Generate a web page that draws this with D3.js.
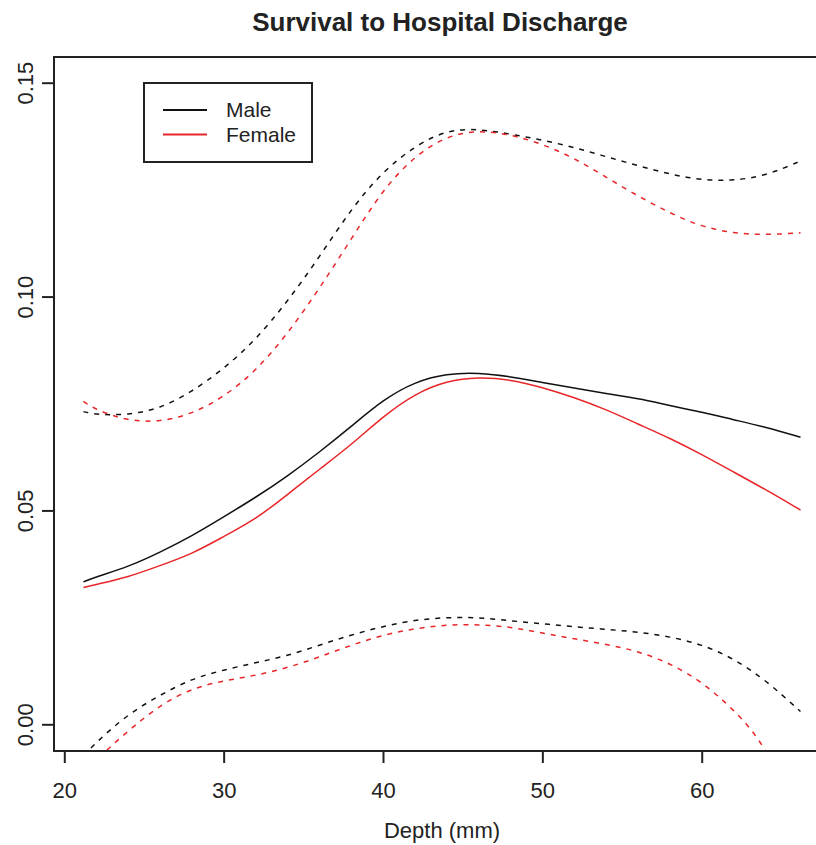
<!DOCTYPE html>
<meta charset="utf-8">
<title>Survival to Hospital Discharge</title>
<style>
body { margin: 0; background: #fff; }
text { font-family: "Liberation Sans", Arial, sans-serif; fill: #222; }
</style>
<body>
<script src="https://d3js.org/d3.v7.min.js"></script>
<script>

// depth grid (mm) and fitted curves
let depth = [21.2, 22, 24, 26, 28, 30, 32, 34, 36, 38, 40, 42, 44, 46, 48, 50, 52, 54, 56, 58, 60, 62, 64, 66.2];

let maleFit = [0.0333, 0.0345, 0.0368, 0.0402, 0.0440, 0.0485, 0.0530, 0.0580, 0.0636, 0.0696, 0.0759, 0.0801,
               0.0820, 0.0822, 0.0813, 0.0799, 0.0786, 0.0773, 0.0762, 0.0745, 0.0730, 0.0712, 0.0695, 0.0671];
let femaleFit = [0.0320, 0.0327, 0.0344, 0.0371, 0.0398, 0.0439, 0.0479, 0.0537, 0.0596, 0.0653, 0.0720, 0.0773,
                 0.0803, 0.0812, 0.0806, 0.0788, 0.0764, 0.0736, 0.0702, 0.0669, 0.0631, 0.0590, 0.0549, 0.0501];

let maleUpper = [0.0731, 0.0724, 0.0723, 0.0738, 0.0777, 0.0831, 0.0898, 0.0988, 0.1092, 0.1205, 0.1293, 0.1352,
                 0.1390, 0.1392, 0.1380, 0.1366, 0.1349, 0.1327, 0.1306, 0.1286, 0.1272, 0.1271, 0.1282, 0.1317];
let maleLower = [-0.0074, -0.0042, 0.0024, 0.0068, 0.0107, 0.0127, 0.0144, 0.0160, 0.0185, 0.0209, 0.0229, 0.0244,
                 0.0250, 0.0250, 0.0242, 0.0235, 0.0228, 0.0222, 0.0216, 0.0205, 0.0187, 0.0154, 0.0104, 0.0030];

let femaleUpper = [0.0755, 0.0735, 0.0709, 0.0707, 0.0725, 0.0765, 0.0825, 0.0912, 0.1018, 0.1134, 0.1251, 0.1329,
                   0.1376, 0.1389, 0.1379, 0.1357, 0.1324, 0.1279, 0.1235, 0.1195, 0.1163, 0.1148, 0.1144, 0.1149];
let femaleLower = [-0.0114, -0.0083, -0.0015, 0.0045, 0.0084, 0.0102, 0.0114, 0.0132, 0.0157, 0.0185, 0.0209, 0.0224,
                   0.0233, 0.0233, 0.0228, 0.0213, 0.0200, 0.0187, 0.0171, 0.0143, 0.0100, 0.0035, -0.0048, -0.0226];

let xTicks = [20, 30, 40, 50, 60];
let yTicks = [0.00, 0.05, 0.10, 0.15];
let legendLabels = ["Male", "Female"];

let width = 816;
let height = 845;
let box = { left: 54, top: 57, right: 826, bottom: 751 };
let black = "#111";
let red = "#e8262a";

let x = d3.scaleLinear().domain([20, 60]).range([64.3, 701.7]);
let y = d3.scaleLinear().domain([0, 0.15]).range([724.3, 82.7]);

let svg = d3.select('body').append('svg')
    .attr('width', width)
    .attr('height', height);

svg.append('clipPath').attr('id', 'plot-clip')
  .append('rect')
    .attr('x', box.left).attr('y', box.top)
    .attr('width', box.right - box.left).attr('height', box.bottom - box.top);

let line = d3.line()
    .x((d, i) => x(depth[i]))
    .y(d => y(d))
    .curve(d3.curveBasis);

let series = [
    { values: maleUpper, color: black, dash: '5,6' },
    { values: maleLower, color: black, dash: '5,6' },
    { values: femaleUpper, color: red, dash: '5,6' },
    { values: femaleLower, color: red, dash: '5,6' },
    { values: maleFit, color: black, dash: null },
    { values: femaleFit, color: red, dash: null },
];

svg.append('g')
    .attr('clip-path', 'url(#plot-clip)')
  .selectAll('path')
    .data(series)
    .enter().append('path')
      .attr('d', d => line(d.values))
      .attr('fill', 'none')
      .attr('stroke', d => d.color)
      .attr('stroke-width', 1.5)
      .attr('stroke-dasharray', d => d.dash);

// plot frame
svg.append('rect')
    .attr('x', box.left).attr('y', box.top)
    .attr('width', box.right - box.left).attr('height', box.bottom - box.top)
    .attr('fill', 'none')
    .attr('stroke', '#222')
    .attr('stroke-width', 2);

// x axis
let xAxis = svg.append('g').attr('transform', `translate(0,${box.bottom})`)
    .call(d3.axisBottom(x).tickValues(xTicks).tickSize(12).tickFormat(d3.format('d')));
xAxis.select('.domain').remove();
xAxis.selectAll('.tick line').attr('stroke', '#222').attr('stroke-width', 2);
xAxis.selectAll('.tick text')
    .attr('font-size', 22).attr('dy', null).attr('y', 47)
    .attr('font-family', '"Liberation Sans", Arial, sans-serif').attr('fill', '#222');

// y axis
let yAxis = svg.append('g').attr('transform', `translate(${box.left},0)`)
    .call(d3.axisLeft(y).tickValues(yTicks).tickSize(12).tickFormat(d3.format('.2f')));
yAxis.select('.domain').remove();
yAxis.selectAll('.tick line').attr('stroke', '#222').attr('stroke-width', 2);
yAxis.selectAll('.tick text')
    .attr('font-size', 22)
    .attr('font-family', '"Liberation Sans", Arial, sans-serif').attr('fill', '#222')
    .attr('text-anchor', 'middle')
    .attr('x', null).attr('dy', null)
    .attr('transform', 'translate(-21,0) rotate(-90)');

// title and axis label
svg.append('text')
    .attr('x', (box.left + box.right) / 2).attr('y', 31)
    .attr('text-anchor', 'middle')
    .attr('font-size', 26).attr('font-weight', 'bold')
    .attr('fill', '#111')
    .text('Survival to Hospital Discharge');

svg.append('text')
    .attr('x', 442).attr('y', 838)
    .attr('text-anchor', 'middle')
    .attr('font-size', 22)
    .text('Depth (mm)');

// legend
let legend = svg.append('g').attr('transform', 'translate(144,83)');
legend.append('rect')
    .attr('width', 168).attr('height', 79)
    .attr('fill', '#fff').attr('stroke', '#222').attr('stroke-width', 2);
let item = legend.selectAll('.item')
    .data(legendLabels)
    .enter().append('g')
      .attr('class', 'item')
      .attr('transform', (d, i) => `translate(0,${27 + i * 24.5})`);
item.append('line')
    .attr('x1', 19).attr('x2', 63)
    .attr('stroke', (d, i) => i === 0 ? black : red)
    .attr('stroke-width', 2);
item.append('text')
    .attr('x', 82).attr('y', 7)
    .attr('font-size', 21)
    .text(d => d);

</script>
</body>
